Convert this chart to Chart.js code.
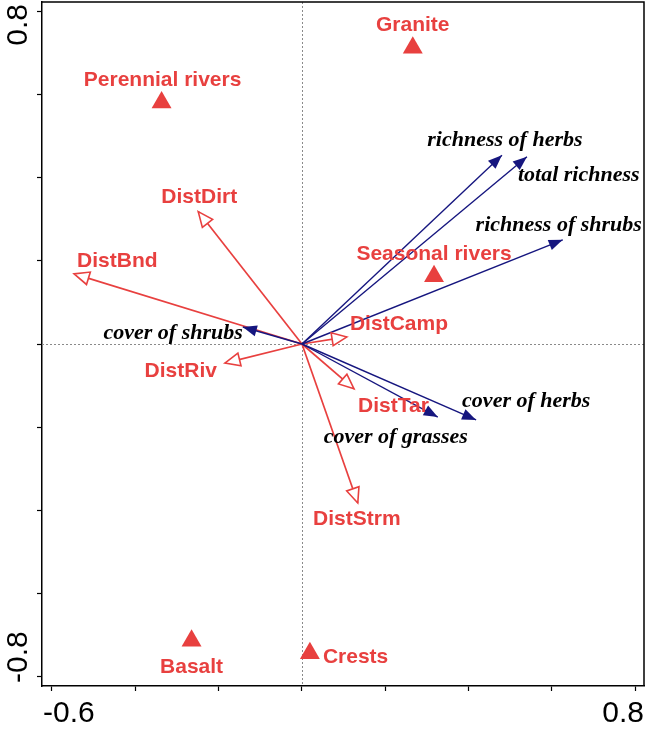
<!DOCTYPE html>
<html>
<head>
<meta charset="utf-8">
<script src="https://cdn.jsdelivr.net/npm/chart.js@4/dist/chart.umd.min.js"></script>
<style>
  html, body { margin: 0; padding: 0; background: #fff; }
  #wrap { width: 646px; height: 733px; position: relative; }
</style>
</head>
<body>
<div id="wrap"><canvas id="c"></canvas></div>
<script>
// ---- data ----
const envNames = ['DistDirt', 'DistBnd', 'DistRiv', 'DistCamp', 'DistTar', 'DistStrm'];
const envX = [-0.249, -0.547, -0.185, 0.108, 0.125, 0.134];
const envY = [0.319, 0.169, -0.046, 0.017, -0.108, -0.383];

const respNames = ['cover of shrubs', 'cover of herbs', 'cover of grasses', 'richness of herbs', 'total richness', 'richness of shrubs'];
const respX = [-0.142, 0.418, 0.326, 0.480, 0.540, 0.626];
const respY = [0.041, -0.183, -0.176, 0.455, 0.451, 0.251];

const centroidNames = ['Granite', 'Perennial rivers', 'Seasonal rivers', 'Basalt', 'Crests'];
const centroidX = [0.266, -0.337, 0.317, -0.265, 0.019];
const centroidY = [0.714, 0.582, 0.163, -0.715, -0.745];

const xTickLabelValues = [-0.6, 0.8];
const yTickLabelValues = [0.8, -0.8];

// ---- styling / label placement (pixel offsets from the mark) ----
const RED = '#e8403f';
const BLUE = '#16167f';
const envLabelPlace = [
  ['center', 1, -9], ['left', 3, -7], ['right', -8, 14],
  ['left', 3, -7], ['left', 4, 23], ['center', -1, 22]
];
const respLabelPlace = [
  ['right', 0, 12], ['left', -14, -13], ['center', -42, 26],
  ['center', 3, -9], ['left', -9, 24], ['center', -4, -9]
];
const centroidLabelPlace = [
  ['center', 0, -17], ['center', 1, -16], ['center', 0, -16],
  ['center', 0, 32], ['left', 13, 10]
];

const datasets = [];
envNames.forEach((n, i) => {
  datasets.push({
    label: n, group: 'env', idx: i,
    data: [{x: 0, y: 0}, {x: envX[i], y: envY[i]}],
    showLine: true, borderColor: RED, borderWidth: 1.7, pointRadius: 0, order: 3
  });
});
respNames.forEach((n, i) => {
  datasets.push({
    label: n, group: 'resp', idx: i,
    data: [{x: 0, y: 0}, {x: respX[i], y: respY[i]}],
    showLine: true, borderColor: BLUE, borderWidth: 1.4, pointRadius: 0, order: 2
  });
});
datasets.push({
  label: 'centroids', group: 'cent',
  data: centroidX.map((x, i) => ({x: x, y: centroidY[i]})),
  showLine: false, pointStyle: 'triangle', pointRadius: 11.5,
  pointBackgroundColor: RED, pointBorderWidth: 0, pointBorderColor: RED, order: 1
});

function arrowHead(ctx, x0, y0, x1, y1, len, hw, fill, color) {
  const dx = x1 - x0, dy = y1 - y0;
  const L = Math.hypot(dx, dy);
  const ux = dx / L, uy = dy / L;
  const bx = x1 - ux * len, by = y1 - uy * len;
  ctx.beginPath();
  ctx.moveTo(x1, y1);
  ctx.lineTo(bx - uy * hw, by + ux * hw);
  ctx.lineTo(bx + uy * hw, by - ux * hw);
  ctx.closePath();
  if (fill) {
    ctx.fillStyle = color; ctx.fill();
  } else {
    ctx.fillStyle = '#fff'; ctx.fill();
    ctx.strokeStyle = color; ctx.lineWidth = 1.6; ctx.stroke();
  }
}

const biplot = {
  id: 'biplot',
  beforeDatasetsDraw(chart) {
    const {ctx, chartArea: a, scales: {x, y}} = chart;
    ctx.save();
    ctx.strokeStyle = '#8a8a8a';
    ctx.lineWidth = 1;
    ctx.setLineDash([2, 2]);
    const x0 = Math.round(x.getPixelForValue(0)) + 0.5;
    const y0 = Math.round(y.getPixelForValue(0)) + 0.5;
    ctx.beginPath();
    ctx.moveTo(x0, a.top); ctx.lineTo(x0, a.bottom);
    ctx.moveTo(a.left, y0); ctx.lineTo(a.right, y0);
    ctx.stroke();
    ctx.restore();
  },
  afterDatasetsDraw(chart) {
    const {ctx, chartArea: a, scales: {x, y}} = chart;
    ctx.save();
    chart.data.datasets.forEach((ds, di) => {
      if (ds.group !== 'env' && ds.group !== 'resp') return;
      const pts = chart.getDatasetMeta(di).data;
      const p0 = pts[0], p1 = pts[1];
      if (ds.group === 'env') arrowHead(ctx, p0.x, p0.y, p1.x, p1.y, 15, 6.5, false, RED);
      else arrowHead(ctx, p0.x, p0.y, p1.x, p1.y, 14, 5.5, true, BLUE);
    });
    ctx.textBaseline = 'alphabetic';
    chart.data.datasets.forEach((ds, di) => {
      const pts = chart.getDatasetMeta(di).data;
      if (ds.group === 'env') {
        const pl = envLabelPlace[ds.idx];
        ctx.font = 'bold 21px "Liberation Sans", Arial, sans-serif';
        ctx.fillStyle = RED; ctx.textAlign = pl[0];
        ctx.fillText(ds.label, pts[1].x + pl[1], pts[1].y + pl[2]);
      } else if (ds.group === 'resp') {
        const pl = respLabelPlace[ds.idx];
        ctx.font = 'italic bold 22px "Liberation Serif", "Times New Roman", serif';
        ctx.fillStyle = '#000'; ctx.textAlign = pl[0];
        ctx.fillText(ds.label, pts[1].x + pl[1], pts[1].y + pl[2]);
      } else if (ds.group === 'cent') {
        ctx.font = 'bold 21px "Liberation Sans", Arial, sans-serif';
        ctx.fillStyle = RED;
        pts.forEach((p, i) => {
          const pl = centroidLabelPlace[i];
          ctx.textAlign = pl[0];
          ctx.fillText(centroidNames[i], p.x + pl[1], p.y + pl[2]);
        });
      }
    });
    ctx.strokeStyle = '#000';
    ctx.lineWidth = 1.5;
    ctx.beginPath();
    ctx.moveTo(a.left, a.top); ctx.lineTo(a.right, a.top); ctx.lineTo(a.right, a.bottom);
    ctx.stroke();
    ctx.font = '30px "Liberation Sans", Arial, sans-serif';
    ctx.fillStyle = '#000';
    ctx.textAlign = 'left';
    xTickLabelValues.forEach(v => {
      const t = String(v);
      const w = ctx.measureText(t).width;
      let left = x.getPixelForValue(v) - w / 2;
      left = Math.max(a.left + 1, Math.min(a.right - w, left));
      ctx.fillText(t, left, a.bottom + 36);
    });
    yTickLabelValues.forEach(v => {
      const t = String(v);
      const w = ctx.measureText(t).width;
      let bottom = y.getPixelForValue(v) + w / 2;
      bottom = Math.min(a.bottom - 3, Math.max(a.top + 2 + w, bottom));
      ctx.save();
      ctx.translate(27, bottom);
      ctx.rotate(-Math.PI / 2);
      ctx.fillText(t, 0, 0);
      ctx.restore();
    });
    ctx.restore();
  }
};

new Chart(document.getElementById('c'), {
  type: 'scatter',
  data: { datasets },
  options: {
    responsive: true,
    maintainAspectRatio: false,
    animation: false,
    layout: { autoPadding: false, padding: { top: 2, right: 2, left: 0, bottom: 0 } },
    plugins: { legend: { display: false }, tooltip: { enabled: false } },
    scales: {
      x: {
        type: 'linear', min: -0.624, max: 0.821,
        ticks: { display: false, stepSize: 0.2, includeBounds: false },
        grid: { drawOnChartArea: false, drawTicks: true, tickLength: 5, tickColor: '#000', tickWidth: 1.2 },
        border: { display: true, color: '#000', width: 1.5 },
        afterFit(s) { s.height = 47; }
      },
      y: {
        type: 'linear', min: -0.824, max: 0.824,
        ticks: { display: false, stepSize: 0.2, includeBounds: false },
        grid: { drawOnChartArea: false, drawTicks: true, tickLength: 5, tickColor: '#000', tickWidth: 1.2 },
        border: { display: true, color: '#000', width: 1.5 },
        afterFit(s) { s.width = 42; }
      }
    }
  },
  plugins: [biplot]
});
</script>
</body>
</html>
